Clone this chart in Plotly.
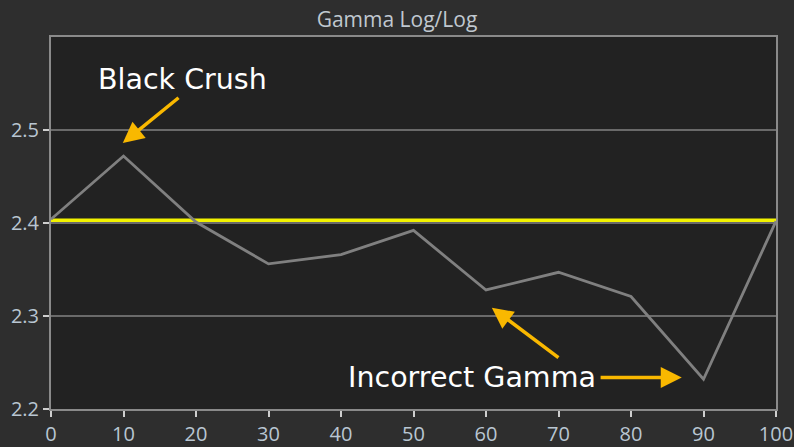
import plotly.graph_objects as go

# stimulus level (%) and measured gamma
levels = [0, 10, 20, 30, 40, 50, 60, 70, 80, 90, 100]
gamma = [2.404, 2.472, 2.401, 2.356, 2.366, 2.392, 2.328, 2.347, 2.321, 2.232, 2.402]
target_gamma = 2.403

x_ticks = [0, 10, 20, 30, 40, 50, 60, 70, 80, 90, 100]
y_ticks = [2.2, 2.3, 2.4, 2.5]

orange = "#f9b800"

fig = go.Figure()

fig.add_trace(go.Scatter(
    x=[levels[0], levels[-1]], y=[target_gamma, target_gamma],
    mode="lines", line=dict(color="#f2f200", width=3.5),
    hoverinfo="skip", showlegend=False
))

fig.add_trace(go.Scatter(
    x=levels, y=gamma, mode="lines",
    line=dict(color="#808080", width=2.8),
    showlegend=False
))

# arrows
arrows = [
    dict(x=9.9, y=2.486, ax=17.8, ay=2.536),
    dict(x=60.8, y=2.309, ax=70.2, ay=2.254),
    dict(x=87.0, y=2.234, ax=75.6, ay=2.234),
]
for a in arrows:
    fig.add_annotation(
        x=a["x"], y=a["y"], ax=a["ax"], ay=a["ay"],
        xref="x", yref="y", axref="x", ayref="y",
        text="", showarrow=True,
        arrowhead=2, arrowsize=1.2, arrowwidth=3.5, arrowcolor=orange
    )

fig.add_annotation(
    x=18.2, y=2.554, xref="x", yref="y", text="Black Crush",
    showarrow=False, font=dict(family="DejaVu Sans", size=28.5, color="white")
)
fig.add_annotation(
    x=58.1, y=2.234, xref="x", yref="y", text="Incorrect Gamma",
    showarrow=False, font=dict(family="DejaVu Sans", size=28.5, color="white")
)

fig.update_layout(
    width=794, height=447,
    paper_bgcolor="#2e2e2e",
    plot_bgcolor="#222222",
    margin=dict(l=51, r=18, t=37, b=38),
    title=dict(text="Gamma Log/Log", x=0.5, xanchor="center", y=0.955,
               yanchor="middle", automargin=False,
               font=dict(family="Open Sans", size=21, color="#c0c8d0")),
    xaxis=dict(
        range=[0, 100], tickvals=x_ticks, showgrid=False, zeroline=False,
        showline=True, linecolor="#8a8a8a", linewidth=2, mirror=True,
        ticks="outside", ticklen=6, tickcolor="#cfcfcf", tickwidth=2,
        automargin=False,
        tickfont=dict(family="Open Sans", size=20, color="#b9c6d2")
    ),
    yaxis=dict(
        range=[2.2, 2.6], tickvals=y_ticks, showgrid=True,
        gridcolor="#6a6a6a", gridwidth=1.5, zeroline=False,
        showline=True, linecolor="#8a8a8a", linewidth=2, mirror=True,
        ticks="outside", ticklen=6, tickcolor="#cfcfcf", tickwidth=2,
        tickformat=".1f", automargin=False,
        tickfont=dict(family="Open Sans", size=20, color="#b9c6d2")
    ),
)

# drop the page's default body margin so the figure sits at the window corner
fig.write_html("out.html", config={"displayModeBar": False},
               post_script="document.body.style.margin='0';")
